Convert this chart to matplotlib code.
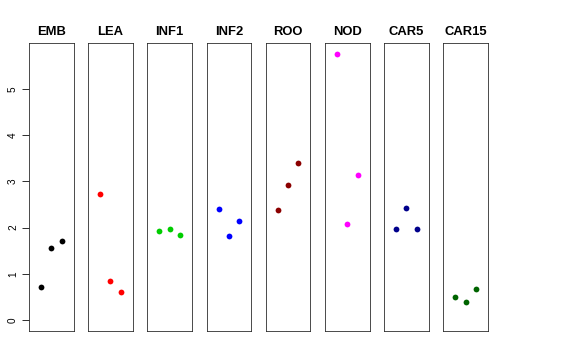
import numpy as np
import matplotlib
matplotlib.use('Agg')
import matplotlib.pyplot as plt

plt.rcParams['font.family'] = ['Liberation Sans', 'DejaVu Sans']

tissues = ['EMB', 'LEA', 'INF1', 'INF2', 'ROO', 'NOD', 'CAR5', 'CAR15']
colors = ['black', 'red', '#00CD00', 'blue', '#8B0000', 'magenta', '#00008B', '#006400']
reps = [1, 2, 3]
values = [
    [0.71, 1.57, 1.72],
    [2.72, 0.85, 0.62],
    [1.92, 1.97, 1.84],
    [2.40, 1.82, 2.14],
    [2.39, 2.93, 3.40],
    [5.75, 2.08, 3.14],
    [1.97, 2.43, 1.98],
    [0.50, 0.40, 0.67],
]
yticks = [0, 1, 2, 3, 4, 5]

W, H = 576, 360
fig = plt.figure(figsize=(W / 72, H / 72), dpi=72)

ymax = max(max(v) for v in values)
ylim = (-0.04 * ymax, ymax * 1.04)

left0, step, width = 29, 59.2, 44.5
bottom, top = 29, 316.7
for i, (name, col, vals) in enumerate(zip(tissues, colors, values)):
    ax = fig.add_axes([(left0 + i * step) / W, bottom / H, width / W, (top - bottom) / H])
    ax.plot(reps, vals, 'o', color=col, markersize=5.8, markeredgewidth=0)
    ax.set_xlim(-0.16, 4.16)
    ax.set_ylim(*ylim)
    ax.set_xticks([])
    for s in ax.spines.values():
        s.set_linewidth(0.8)
        s.set_color('#222222')
    ax.set_title(name, fontsize=13, fontweight='bold', pad=8)
    if i == 0:
        ax.set_yticks(yticks)
        ax.set_yticklabels([str(t) for t in yticks], rotation=90, va='center', fontsize=10)
        ax.tick_params(axis='y', length=7, width=0.8, pad=4)
    else:
        ax.set_yticks([])

fig.savefig('out.png', dpi=72)
